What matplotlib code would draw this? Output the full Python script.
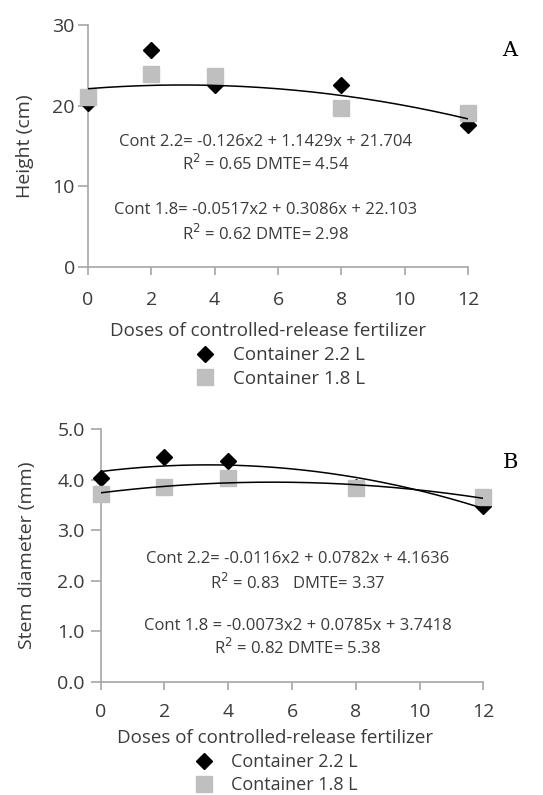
import numpy as np
import matplotlib
matplotlib.use('Agg')
import matplotlib.pyplot as plt

plt.rcParams['font.family'] = ['Open Sans', 'DejaVu Sans']

# Data: doses of controlled-release fertilizer
doses = np.array([0, 2, 4, 8, 12])
# A: height (cm)
h_22 = np.array([20.3, 26.9, 22.5, 22.6, 17.6])
h_18 = np.array([21.1, 23.9, 23.7, 19.7, 19.1])
# B: stem diameter (mm)
d_22 = np.array([4.03, 4.46, 4.38, 3.86, 3.48])
d_18 = np.array([3.72, 3.85, 4.04, 3.83, 3.66])
# fitted quadratics (from the equations on the chart)
fitA = [-0.0517, 0.3086, 22.103]
fitB_22 = [-0.0116, 0.0782, 4.1636]
fitB_18 = [-0.0073, 0.0785, 3.7418]

W, H = 543, 795
fig = plt.figure(figsize=(W/100, H/100), dpi=100)
txt = '#3b3b3b'
gray = '#bfbfbf'
axc = '#a6a6a6'


def px(x, y):
    return x/W, 1 - y/H


def style(ax, xpad, ypad):
    for s in ['top', 'right']:
        ax.spines[s].set_visible(False)
    for s in ['left', 'bottom']:
        ax.spines[s].set_color(axc)
        ax.spines[s].set_linewidth(1.2)
    ax.tick_params(direction='out', color=axc, width=1.2,
                   labelcolor=txt, labelsize=14)
    ax.tick_params(axis='x', length=6, pad=xpad)
    ax.tick_params(axis='y', length=7.5, pad=ypad)
    ax.set_xlim(0, 12)
    ax.set_xticks(range(0, 13, 2))


xs = np.linspace(0, 12, 200)

# ---- panel A
axA = fig.add_axes([88/W, 1-267/H, 380/W, 242/H])
style(axA, 11, 2)
axA.set_ylim(0, 30)
axA.set_yticks([0, 10, 20, 30])
axA.plot(doses, h_22, 'kD', ms=8, clip_on=False, zorder=3)
axA.plot(doses, h_18, 's', color=gray, ms=12, clip_on=False, zorder=4)
axA.plot(xs, np.polyval(fitA, xs), 'k-', lw=1.1, zorder=5)
axA.set_ylabel('Height (cm)', fontsize=14, color=txt, labelpad=13)
fig.text(*px(510, 50), 'A', family='DejaVu Serif', fontsize=15, ha='center', va='center')
for y, s in [(142, 'Cont 2.2= -0.126x2 + 1.1429x + 21.704'),
             (164, 'R$^2$ = 0.65 DMTE= 4.54'),
             (210, 'Cont 1.8= -0.0517x2 + 0.3086x + 22.103'),
             (234, 'R$^2$ = 0.62 DMTE= 2.98')]:
    fig.text(*px(266, y), s, fontsize=12, color=txt, ha='center', va='center')
fig.text(*px(268, 331), 'Doses of controlled-release fertilizer', fontsize=13.5,
         color=txt, ha='center', va='center')

# ---- panel B
axB = fig.add_axes([100.7/W, 1-681.7/H, 382.6/W, 252.4/H])
style(axB, 9, 4)
axB.set_ylim(0, 5)
axB.set_yticks(np.arange(0, 5.1, 1.0))
axB.set_yticklabels(['%.1f' % v for v in np.arange(0, 5.1, 1.0)])
axB.plot(doses, d_22, 'kD', ms=8, clip_on=False, zorder=3)
axB.plot(doses, d_18, 's', color=gray, ms=12, clip_on=False, zorder=4)
axB.plot(xs, np.polyval(fitB_22, xs), 'k-', lw=1.1, zorder=5)
axB.plot(xs, np.polyval(fitB_18, xs), 'k-', lw=1.1, zorder=5)
axB.set_ylabel('Stem diameter (mm)', fontsize=14, color=txt, labelpad=15)
fig.text(*px(510, 462), 'B', family='DejaVu Serif', fontsize=15, ha='center', va='center')
for y, s in [(559, 'Cont 2.2= -0.0116x2 + 0.0782x + 4.1636'),
             (583, 'R$^2$ = 0.83   DMTE= 3.37'),
             (626, 'Cont 1.8 = -0.0073x2 + 0.0785x + 3.7418'),
             (648, 'R$^2$ = 0.82 DMTE= 5.38')]:
    fig.text(*px(298, y), s, fontsize=12, color=txt, ha='center', va='center')
fig.text(*px(275, 738), 'Doses of controlled-release fertilizer', fontsize=13.5,
         color=txt, ha='center', va='center')

# legends
for ax, top, fs in [(axA, 337, 13.5), (axB, 744, 13)]:
    hd = ax.lines[0]
    hs = ax.lines[1]
    fig.legend([hd, hs], ['Container 2.2 L', 'Container 1.8 L'],
               loc='upper left', bbox_to_anchor=px(186, top), frameon=False,
               fontsize=fs, labelspacing=0.3, handletextpad=1.0,
               handlelength=1.0, borderpad=0, labelcolor=txt)

fig.savefig('out.png', dpi=100)
